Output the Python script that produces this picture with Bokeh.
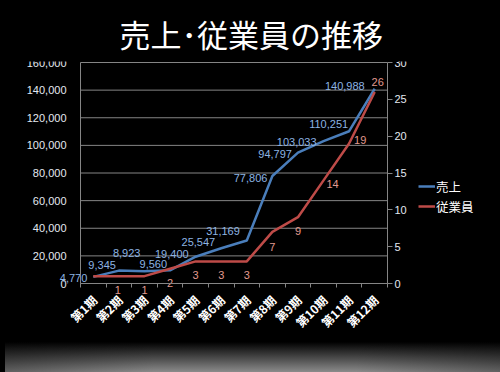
import numpy as np
from bokeh.plotting import figure
from bokeh.models import (ColumnDataSource, Range1d, LinearAxis,
                          FixedTicker, Legend, LegendItem, Div)
from bokeh.layouts import column
from bokeh.core.properties import value
from bokeh.embed import file_html
from bokeh.resources import INLINE

# ---- data ----
periods = ["第1期", "第2期", "第3期", "第4期", "第5期", "第6期",
           "第7期", "第8期", "第9期", "第10期", "第11期", "第12期"]
sales = [4770, 9345, 8923, 9560, 19400, 25547, 31169, 77806, 94797, 103033, 110251, 140988]
staff = [1, 1, 1, 2, 3, 3, 3, 7, 9, 14, 19, 26]
sales_ticks = [0, 20000, 40000, 60000, 80000, 100000, 120000, 140000, 160000]
staff_ticks = [0, 5, 10, 15, 20, 25, 30]
title_text = "売上･従業員の推移"
series_names = ["売上", "従業員"]

# ---- label placement (styling, screen px) ----
sales_lbl_dx = [-6, -3, -4, -3, -7, -6, -7, -5, -6, -7, -1, -10]
sales_lbl_dy = [1, -6, -18, -6, -3, -6, -9, 2, 1, 1, -7, -3]
staff_lbl_dx = [0, -1, 0, 0, 0, 0, 0, 0, 0, 9, 11, 3]
staff_lbl_dy = [14, 14, 14, 14, 14, 14, 14, 15, 14, 4, -4, -10]
staff_lbl_show = [False] + [True] * 11

BLUE = "#4a7ebb"
RED = "#be4b48"
BLUE_TXT = "#8db4e3"
RED_TXT = "#e29a8f"
GRID = "#858585"
AX_TXT = "#e4e9f1"
NUMFONT = "Liberation Sans"
JPFONT = "Noto Sans CJK JP"

# ---- layout (page px) ----
FIG_W, FIG_H = 500, 337
FRAME_L, FRAME_R, FRAME_T, FRAME_B = 20, 476, 61, 329   # wide frame: no text gets clipped
PLOT_L, PLOT_R, PLOT_T, PLOT_B = 80, 387, 62, 283       # where the chart's axes sit
n = len(periods)
slot_px = (PLOT_R - PLOT_L) / n
x_start = -(PLOT_L - FRAME_L) / slot_px
x_end = n + (FRAME_R - PLOT_R) / slot_px
sales_px = (PLOT_B - PLOT_T) / sales_ticks[-1]
staff_px = (PLOT_B - PLOT_T) / staff_ticks[-1]
y_start, y_end = -(FRAME_B - PLOT_B) / sales_px, (PLOT_B - FRAME_T) / sales_px
s_start, s_end = -(FRAME_B - PLOT_B) / staff_px, (PLOT_B - FRAME_T) / staff_px

slot_centres = [i + 0.5 for i in range(n)]
slot_edges = list(range(n + 1))

src = ColumnDataSource(dict(
    x=slot_centres, sales=sales, staff=staff,
    sales_lbl=[f"{v:,}" for v in sales],
    sdx=sales_lbl_dx, sdy=sales_lbl_dy,
))
idx = [i for i, s in enumerate(staff_lbl_show) if s]
src_staff_lbl = ColumnDataSource(dict(
    x=[slot_centres[i] for i in idx],
    staff=[staff[i] for i in idx],
    lbl=[str(staff[i]) for i in idx],
    dx=[staff_lbl_dx[i] for i in idx],
    dy=[staff_lbl_dy[i] for i in idx],
))
src_cat = ColumnDataSource(dict(x=slot_centres, y=[0] * n, lbl=periods))
src_ytick = ColumnDataSource(dict(x=[0] * len(sales_ticks), y=sales_ticks,
                                  lbl=[f"{v:,}" for v in sales_ticks]))

p = figure(width=FIG_W, height=FIG_H, x_range=Range1d(x_start, x_end),
           y_range=Range1d(y_start, y_end),
           x_axis_location=None, y_axis_location=None,
           output_backend="svg", toolbar_location=None,
           background_fill_color="black", border_fill_color="black",
           outline_line_color=None,
           min_border_left=FRAME_L, min_border_right=FIG_W - FRAME_R,
           min_border_top=FRAME_T, min_border_bottom=FIG_H - FRAME_B)
p.xgrid.visible = False
p.ygrid.visible = False

p.extra_y_ranges = {"staff": Range1d(s_start, s_end)}

# horizontal gridlines at the sales ticks, spanning the category area only
p.segment(x0=0, x1=n, y0=sales_ticks, y1=sales_ticks, line_color=GRID, line_width=1)

hidden_labels = dict(major_label_text_font_size="0px", major_label_standoff=0)

bottom_axis = LinearAxis(ticker=FixedTicker(ticks=slot_centres, minor_ticks=slot_edges),
                         fixed_location=0, bounds=(0, n),
                         major_label_overrides={c: "" for c in slot_centres},
                         major_tick_line_color=None,
                         minor_tick_in=0, minor_tick_out=4,
                         minor_tick_line_color=GRID,
                         axis_line_color=GRID, **hidden_labels)
p.add_layout(bottom_axis, "below")

left_axis = LinearAxis(ticker=FixedTicker(ticks=sales_ticks, minor_ticks=[]),
                       fixed_location=0, bounds=(0, sales_ticks[-1]),
                       major_label_overrides={t: "" for t in sales_ticks},
                       major_tick_line_color=None, minor_tick_line_color=None,
                       major_tick_in=0, major_tick_out=0,
                       axis_line_color=GRID, **hidden_labels)
p.add_layout(left_axis, "left")

right_axis = LinearAxis(y_range_name="staff",
                        fixed_location=n, bounds=(0, staff_ticks[-1]),
                        ticker=FixedTicker(ticks=staff_ticks, minor_ticks=[]),
                        major_tick_in=0, major_tick_out=5,
                        major_tick_line_color=GRID, minor_tick_line_color=None,
                        axis_line_color=GRID,
                        major_label_text_color=AX_TXT,
                        major_label_text_font=NUMFONT,
                        major_label_text_font_size="11px",
                        major_label_standoff=2)
p.add_layout(right_axis, "right")

# tick labels of the left (sales) axis and the category axis
p.text(x="x", y="y", text="lbl", source=src_ytick, x_offset=-14,
       text_align="right", text_baseline="middle",
       text_color=AX_TXT, text_font=value(NUMFONT), text_font_size="11px")
p.text(x="x", y="y", text="lbl", source=src_cat, angle=np.pi / 4,
       x_offset=1, y_offset=14, text_align="right", text_baseline="middle",
       text_color="white", text_font=value(JPFONT), text_font_style="bold",
       text_font_size="12px")

r1 = p.line(x="x", y="sales", source=src, line_color=BLUE, line_width=2.5)
r2 = p.line(x="x", y="staff", source=src, y_range_name="staff",
            line_color=RED, line_width=2.5)

p.text(x="x", y="sales", text="sales_lbl", source=src,
       x_offset="sdx", y_offset="sdy", text_align="right", text_baseline="middle",
       text_color=BLUE_TXT, text_font=value(NUMFONT), text_font_size="11px")
p.text(x="x", y="staff", text="lbl", source=src_staff_lbl, y_range_name="staff",
       x_offset="dx", y_offset="dy", text_align="center", text_baseline="middle",
       text_color=RED_TXT, text_font=value(NUMFONT), text_font_size="11px")

legend = Legend(items=[LegendItem(label=series_names[0], renderers=[r1]),
                       LegendItem(label=series_names[1], renderers=[r2])],
                location=(418 - FRAME_L, FRAME_B - 216), orientation="vertical",
                background_fill_alpha=0, border_line_color=None,
                label_text_color="white", label_text_font=JPFONT,
                label_text_font_size="12.5px",
                glyph_width=17, glyph_height=20, label_height=20,
                spacing=0, padding=0, margin=0, label_standoff=1)
p.add_layout(legend, "center")

p.title.text = title_text
p.title.text_color = "white"
p.title.text_font = JPFONT
p.title.text_font_size = "31px"
p.title.text_font_style = "normal"
p.title.align = "left"
p.title.offset = 119 - FRAME_L
p.title.standoff = 12

fade = Div(text="", width=FIG_W, height=372 - FIG_H,
           styles={"background": "linear-gradient(to right, rgba(0,0,0,0.3), rgba(0,0,0,0) 30%, "
                                 "rgba(0,0,0,0) 70%, rgba(0,0,0,0.3)), "
                                 "linear-gradient(to bottom, #000000, #a2a2a2)"})

layout = column(p, fade, spacing=0,
                styles={"position": "fixed", "left": "0px", "top": "0px",
                        "background": "black"})

open("out.html", "w").write(file_html(layout, INLINE))
